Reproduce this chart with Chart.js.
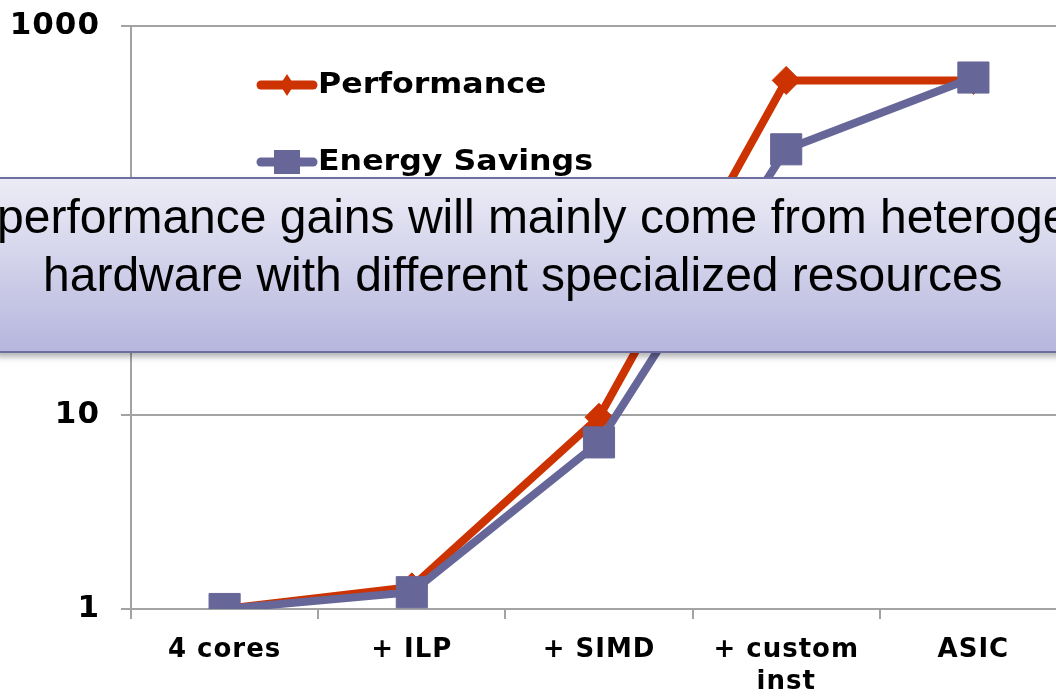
<!DOCTYPE html>
<html>
<head>
<meta charset="utf-8">
<script src="https://cdn.jsdelivr.net/npm/chart.js@4/dist/chart.umd.min.js"></script>
<style>
  html, body { margin: 0; padding: 0; background: #fff; overflow: hidden; }
  #wrap { position: relative; width: 1056px; height: 691px; overflow: hidden; }
  #chart { position: absolute; left: 0; top: 0; }
  #note {
    position: absolute; left: -4px; top: 177px; width: 1080px; height: 176px;
    box-sizing: border-box;
    border-top: 2px solid #6d6d9f; border-bottom: 2px solid #6d6d9f;
    background: linear-gradient(#ececf6, #b6b6de);
    box-shadow: 0 4px 6px rgba(0, 0, 0, 0.3);
    font-family: "Liberation Sans", Arial, sans-serif; font-size: 48px; color: #000;
    padding-top: 9px;
  }
  #note div { white-space: nowrap; line-height: 58px; }
</style>
</head>
<body>
<div id="wrap">
  <canvas id="chart" width="1090" height="691" style="width:1090px;height:691px"></canvas>
  <div id="note">
    <div style="padding-left:1px">performance gains will mainly come from heterogeneous</div>
    <div style="padding-left:47px">hardware with different specialized resources</div>
  </div>
</div>
<script>
const categories = ["4 cores", "+ ILP", "+ SIMD", ["+ custom", "inst"], "ASIC"]
const performance = [1, 1.3, 9.7, 525, 525]
const energySavings = [1, 1.22, 7.2, 232, 543]
const yTicks = [1, 10, 100, 1000]

const red = "#cc3300"
const slate = "#666699"
const gridGray = "#a3a3a3"
const fontFamily = "'DejaVu Sans', Verdana, sans-serif"

// the slide font is a bit wider than DejaVu, so open the letters up a little
const wideText = {
  id: "wideText",
  beforeLayout(chart) {
    chart.ctx.letterSpacing = "1px"
  },
  beforeDraw(chart) {
    chart.ctx.letterSpacing = "1px"
  },
}

// legend sits inside the plot, so draw it by hand
const insideLegend = {
  id: "insideLegend",
  afterDatasetsDraw(chart) {
    const ctx = chart.ctx
    const items = [
      { text: "Performance", color: red, marker: "diamond", y: 85 },
      { text: "Energy Savings", color: slate, marker: "square", y: 162 },
    ]
    items.forEach(function (item) {
      ctx.save()
      ctx.strokeStyle = item.color
      ctx.fillStyle = item.color
      ctx.lineWidth = 9
      ctx.lineCap = "round"
      ctx.beginPath()
      ctx.moveTo(261, item.y)
      ctx.lineTo(313, item.y)
      ctx.stroke()
      ctx.beginPath()
      if (item.marker == "diamond") {
        ctx.moveTo(287, item.y - 11)
        ctx.lineTo(294, item.y)
        ctx.lineTo(287, item.y + 11)
        ctx.lineTo(280, item.y)
      } else {
        ctx.rect(274, item.y - 12, 26, 24)
      }
      ctx.closePath()
      ctx.fill()
      // slide text is stretched sideways
      ctx.translate(318, item.y + 1)
      ctx.scale(1.13, 1)
      ctx.fillStyle = "#000"
      ctx.font = "bold 28px " + fontFamily
      ctx.letterSpacing = "0px"
      ctx.textBaseline = "middle"
      ctx.textAlign = "left"
      ctx.fillText(item.text, 0, 0)
      ctx.restore()
    })
  },
}

const config = {
  type: "line",
  data: {
    labels: categories,
    datasets: [
      {
        label: "Performance",
        data: performance,
        order: 1,
        borderColor: red,
        backgroundColor: red,
        borderWidth: 8,
        pointStyle: "rectRot",
        pointRadius: 14,
        pointBorderWidth: 1,
        pointBorderColor: red,
        pointBackgroundColor: red,
        tension: 0,
      },
      {
        label: "Energy Savings",
        data: energySavings,
        order: 0,
        borderColor: slate,
        backgroundColor: slate,
        borderWidth: 8,
        pointStyle: "rect",
        pointRadius: 22,
        pointBorderWidth: 1,
        pointBorderColor: slate,
        pointBackgroundColor: slate,
        tension: 0,
      },
    ],
  },
  options: {
    responsive: false,
    animation: false,
    layout: { padding: { top: 26, right: 14, left: 0, bottom: 0 } },
    plugins: {
      legend: { display: false },
      tooltip: { enabled: false },
    },
    scales: {
      x: {
        offset: true,
        grid: {
          offset: true,
          drawOnChartArea: false,
          tickLength: 10,
          color: gridGray,
          lineWidth: 2,
        },
        border: { display: true, color: gridGray, width: 2 },
        ticks: {
          color: "#000",
          font: { family: fontFamily, size: 26, weight: "bold", lineHeight: 1.2 },
          padding: 16,
          maxRotation: 0,
          autoSkip: false,
        },
        afterFit: function (scale) {
          scale.height = 82
        },
      },
      y: {
        type: "logarithmic",
        min: 1,
        max: 1000,
        afterBuildTicks: function (scale) {
          scale.ticks = yTicks.map((v) => ({ value: v }))
        },
        afterFit: function (scale) {
          scale.width = 131
          scale.paddingTop = 0
          scale.paddingBottom = 0
        },
        grid: { color: gridGray, lineWidth: 2, tickLength: 10 },
        border: { color: gridGray, width: 2 },
        ticks: {
          color: "#000",
          font: { family: fontFamily, size: 31, weight: "bold" },
          padding: 21,
          callback: function (value) {
            return String(value)
          },
        },
      },
    },
  },
  plugins: [wideText, insideLegend],
}

new Chart(document.getElementById("chart"), config)
</script>
</body>
</html>
